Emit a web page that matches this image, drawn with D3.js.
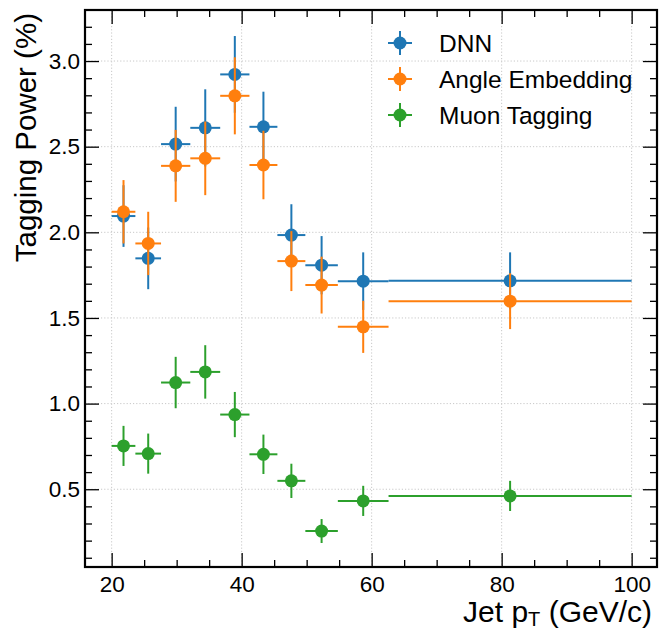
<!DOCTYPE html>
<html>
<head>
<meta charset="utf-8">
<script src="https://cdn.jsdelivr.net/npm/d3@7"></script>
<style>
    body { margin: 0; background: #fff; }
    text { font-family: "Liberation Sans", Arial, sans-serif; fill: #000; }
</style>
</head>
<body>
<div id="chart"></div>
<script>

// pT bins (GeV/c)
const binEdges = [20, 23.65, 27.6, 32.1, 36.7, 41.2, 45.5, 49.8, 54.8, 62.6, 100];

// tagging power (%) and stat errors per bin
const dnnValues   = [2.095, 1.848, 2.515, 2.61, 2.922, 2.616, 1.984, 1.808, 1.715, 1.717];
const dnnErrors   = [0.18, 0.18, 0.218, 0.225, 0.224, 0.205, 0.18, 0.17, 0.168, 0.166];
const angleValues = [2.12, 1.935, 2.388, 2.432, 2.797, 2.393, 1.832, 1.692, 1.448, 1.598];
const angleErrors = [0.185, 0.185, 0.21, 0.215, 0.225, 0.2, 0.175, 0.166, 0.152, 0.163];
const muonValues  = [0.753, 0.708, 1.123, 1.185, 0.936, 0.704, 0.549, 0.256, 0.432, 0.461];
const muonErrors  = [0.117, 0.117, 0.15, 0.156, 0.132, 0.115, 0.1, 0.07, 0.088, 0.088];

const seriesNames  = ["DNN", "Angle Embedding", "Muon Tagging"];
const seriesColors = ["#1f77b4", "#ff7f0e", "#2ca02c"];

const xMajorTicks = [20, 40, 60, 80, 100];
const yMajorTicks = [0.5, 1.0, 1.5, 2.0, 2.5, 3.0];

const width = 660, height = 630;
const plot = {left: 85, top: 10, right: 657, bottom: 567};

let svg = d3.select("#chart").append("svg")
    .attr("width", width)
    .attr("height", height);

let x = d3.scaleLinear().domain([15.9, 103.9]).range([plot.left, plot.right]);
let y = d3.scaleLinear().domain([0.046, 3.298]).range([plot.bottom, plot.top]);

// minor ticks every 5 on x, 0.1 on y
let xMinor = d3.range(20, 104, 5).filter(v => !xMajorTicks.includes(v));
let yMinor = d3.range(1, 33).map(v => v / 10).filter(v => !yMajorTicks.some(t => Math.abs(t - v) < 1e-6));

// dotted grid
let grid = svg.append("g").attr("class", "grid");
grid.selectAll("line.gx")
    .data(xMajorTicks)
    .enter().append("line")
    .attr("x1", d => x(d)).attr("x2", d => x(d))
    .attr("y1", plot.top).attr("y2", plot.bottom);
grid.selectAll("line.gy")
    .data(yMajorTicks)
    .enter().append("line")
    .attr("y1", d => y(d)).attr("y2", d => y(d))
    .attr("x1", plot.left).attr("x2", plot.right);
grid.selectAll("line")
    .attr("stroke", "#c8c8c8")
    .attr("stroke-width", 1)
    .attr("stroke-dasharray", "1.2,2");

// build series table
let series = seriesNames.map(function (name, s) {
    let vals = [dnnValues, angleValues, muonValues][s];
    let errs = [dnnErrors, angleErrors, muonErrors][s];
    return {
        name: name,
        color: seriesColors[s],
        points: vals.map((v, i) => ({
            lo: binEdges[i], hi: binEdges[i + 1],
            xc: (binEdges[i] + binEdges[i + 1]) / 2,
            v: v, e: errs[i]
        }))
    };
});

let groups = svg.selectAll("g.series")
    .data(series)
    .enter().append("g")
    .attr("class", "series")
    .attr("stroke", d => d.color)
    .attr("fill", d => d.color);

let pts = groups.selectAll("g.pt")
    .data(d => d.points)
    .enter().append("g");

pts.append("line")
    .attr("x1", d => x(d.lo)).attr("x2", d => x(d.hi))
    .attr("y1", d => y(d.v)).attr("y2", d => y(d.v))
    .attr("stroke-width", 2);
pts.append("line")
    .attr("x1", d => x(d.xc)).attr("x2", d => x(d.xc))
    .attr("y1", d => y(d.v - d.e)).attr("y2", d => y(d.v + d.e))
    .attr("stroke-width", 2);
pts.append("circle")
    .attr("cx", d => x(d.xc))
    .attr("cy", d => y(d.v))
    .attr("r", 6.5)
    .attr("stroke", "none");

// axes - ticks point inwards on all four sides
function styleAxis(g) {
    g.select(".domain").remove();
    g.selectAll(".tick line").attr("stroke", "#000").attr("stroke-width", 1.3);
    g.selectAll(".tick text").attr("font-size", 22.5).attr("font-family", "Liberation Sans, Arial, sans-serif");
}

svg.append("g")
    .attr("transform", `translate(0,${plot.bottom})`)
    .call(d3.axisBottom(x).tickValues(xMajorTicks).tickSize(-14).tickPadding(9.5).tickFormat(d3.format("d")))
    .call(styleAxis);
svg.append("g")
    .attr("transform", `translate(0,${plot.bottom})`)
    .call(d3.axisBottom(x).tickValues(xMinor).tickSize(-7).tickFormat(""))
    .call(styleAxis);
svg.append("g")
    .attr("transform", `translate(0,${plot.top})`)
    .call(d3.axisTop(x).tickValues(xMajorTicks).tickSize(-14).tickFormat(""))
    .call(styleAxis);
svg.append("g")
    .attr("transform", `translate(0,${plot.top})`)
    .call(d3.axisTop(x).tickValues(xMinor).tickSize(-7).tickFormat(""))
    .call(styleAxis);

svg.append("g")
    .attr("transform", `translate(${plot.left},0)`)
    .call(d3.axisLeft(y).tickValues(yMajorTicks).tickSize(-14).tickPadding(5).tickFormat(d3.format(".1f")))
    .call(styleAxis);
svg.append("g")
    .attr("transform", `translate(${plot.left},0)`)
    .call(d3.axisLeft(y).tickValues(yMinor).tickSize(-7).tickFormat(""))
    .call(styleAxis);
svg.append("g")
    .attr("transform", `translate(${plot.right},0)`)
    .call(d3.axisRight(y).tickValues(yMajorTicks).tickSize(-14).tickFormat(""))
    .call(styleAxis);
svg.append("g")
    .attr("transform", `translate(${plot.right},0)`)
    .call(d3.axisRight(y).tickValues(yMinor).tickSize(-7).tickFormat(""))
    .call(styleAxis);

// frame
svg.append("rect")
    .attr("x", plot.left).attr("y", plot.top)
    .attr("width", plot.right - plot.left)
    .attr("height", plot.bottom - plot.top)
    .attr("fill", "none")
    .attr("stroke", "#000")
    .attr("stroke-width", 2.2);

// axis labels
let xLabel = svg.append("text")
    .attr("x", 652).attr("y", 622)
    .attr("text-anchor", "end")
    .attr("font-size", 30);
xLabel.append("tspan").text("Jet p");
xLabel.append("tspan").attr("font-size", 20).attr("dy", 4).text("T");
xLabel.append("tspan").attr("dy", -4).text(" (GeV/c)");

svg.append("text")
    .attr("transform", "translate(36,13) rotate(-90)")
    .attr("text-anchor", "end")
    .attr("font-size", 29.5)
    .text("Tagging Power (%)");

// legend
let legend = svg.selectAll("g.legend")
    .data(series)
    .enter().append("g")
    .attr("transform", (d, i) => `translate(400,${43 + i * 36})`);
legend.append("line")
    .attr("x1", -12).attr("x2", 12)
    .attr("stroke", d => d.color).attr("stroke-width", 2);
legend.append("line")
    .attr("y1", -12).attr("y2", 12)
    .attr("stroke", d => d.color).attr("stroke-width", 2);
legend.append("circle")
    .attr("r", 6.5)
    .attr("fill", d => d.color);
legend.append("text")
    .attr("x", 39).attr("y", 8.5)
    .attr("font-size", 24.5)
    .text(d => d.name);

</script>
</body>
</html>
